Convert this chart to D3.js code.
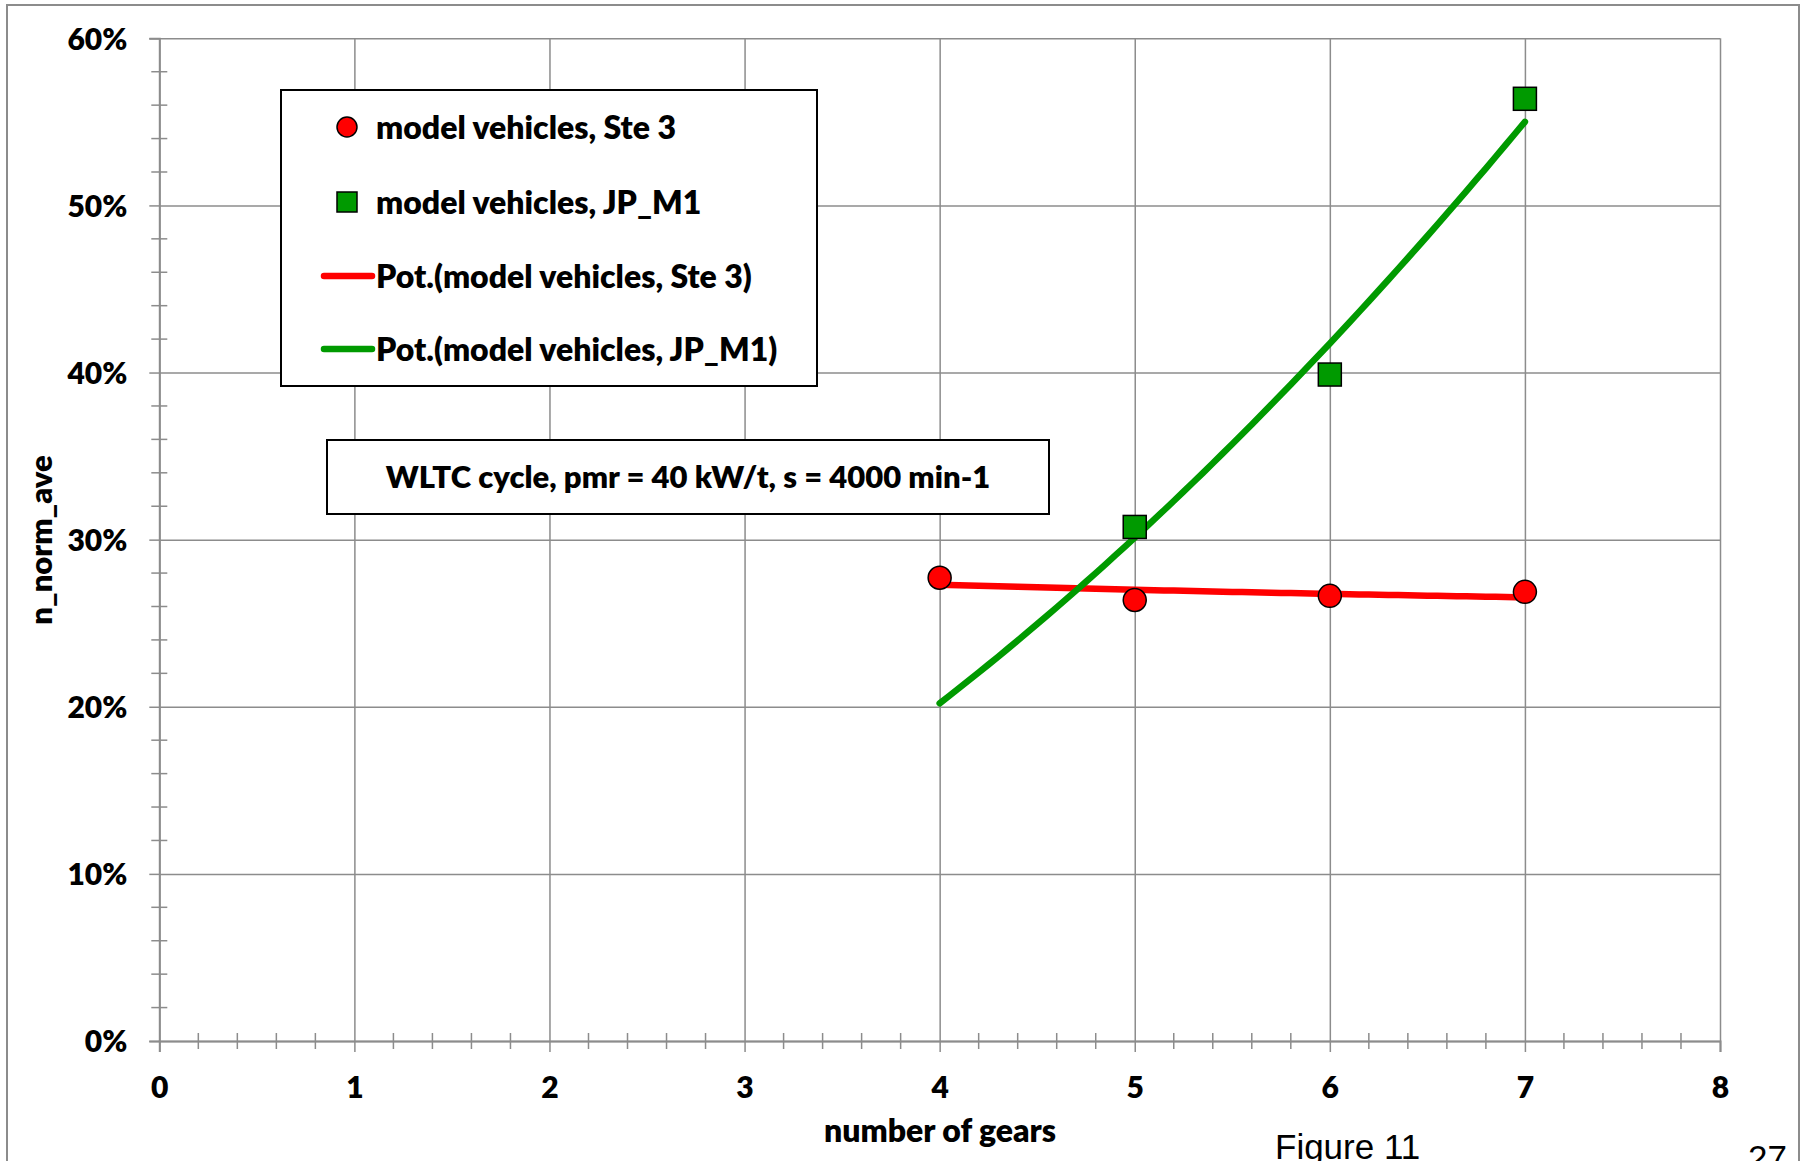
<!DOCTYPE html>
<html>
<head>
<meta charset="utf-8">
<script src="https://cdn.jsdelivr.net/npm/d3@7"></script>
<style>
  body { margin: 0; background: #fff; }
  svg { display: block; }
  .lbl { font-family: Lato, "Open Sans", sans-serif; font-weight: 800; fill: #000; }
</style>
</head>
<body>
<div class="chart"></div>
<script>
// number of gears vs n_norm_ave
const steGears = [4, 5, 6, 7];
const steValues = [0.2772, 0.2639, 0.2664, 0.2688];
const jpGears = [5, 6, 7];
const jpValues = [0.3076, 0.3988, 0.5638];
const trendRange = [4, 7];   // Excel draws both power trendlines over 4..7

const xTicks = [0, 1, 2, 3, 4, 5, 6, 7, 8];
const yTicks = [0, 0.1, 0.2, 0.3, 0.4, 0.5, 0.6];

const legendNames = ["model vehicles, Ste 3", "model vehicles, JP_M1",
  "Pot.(model vehicles, Ste 3)", "Pot.(model vehicles, JP_M1)"];
const noteText = "WLTC cycle, pmr = 40 kW/t, s = 4000 min-1";

const red = "#ff0000";
const green = "#009a00";
const grey = "#8c8c8c";

const W = 1806, H = 1161;
const margin = { top: 38.3, right: 86, bottom: 120, left: 159.3 };
const width = W - margin.left - margin.right;
const height = 1041 - margin.top;

const svg = d3.select(".chart")
    .append("svg")
    .attr("width", W)
    .attr("height", H);

// outer frame
svg.append("rect")
    .attr("x", 7).attr("y", 5)
    .attr("width", 1792).attr("height", 1200)
    .attr("fill", "none")
    .attr("stroke", grey)
    .attr("stroke-width", 2);

const g = svg.append("g")
    .attr("transform", "translate(" + margin.left + "," + margin.top + ")");

const x = d3.scaleLinear().domain([0, 8]).range([0, width]);
const y = d3.scaleLinear().domain([0, 0.6]).range([height, 0]);

// grid
g.append("g")
    .attr("class", "grid")
    .call(d3.axisLeft(y).tickValues(yTicks).tickSize(-width).tickFormat(""));
g.append("g")
    .attr("class", "grid")
    .attr("transform", "translate(0," + height + ")")
    .call(d3.axisBottom(x).tickValues(xTicks).tickSize(-height).tickFormat(""));
g.selectAll(".grid .domain").remove();
g.selectAll(".grid line").attr("stroke", grey).attr("stroke-width", 1.5);

// minor ticks (cross the axis)
const yMinor = d3.range(0, 61, 2).filter(d => d % 10 !== 0).map(d => d / 100);
g.append("g").selectAll("line")
    .data(yMinor)
    .enter()
    .append("line")
    .attr("x1", -8).attr("x2", 8)
    .attr("y1", d => y(d)).attr("y2", d => y(d))
    .attr("stroke", grey).attr("stroke-width", 1.5);

const xMinor = d3.range(0, 41).filter(d => d % 5 !== 0).map(d => d / 5);
g.append("g").selectAll("line")
    .data(xMinor)
    .enter()
    .append("line")
    .attr("y1", height - 8).attr("y2", height + 8)
    .attr("x1", d => x(d)).attr("x2", d => x(d))
    .attr("stroke", grey).attr("stroke-width", 1.5);

// axes
const yAxis = g.append("g")
    .call(d3.axisLeft(y).tickValues(yTicks).tickSize(10).tickPadding(22)
        .tickFormat(d3.format(".0%")));
const xAxis = g.append("g")
    .attr("transform", "translate(0," + height + ")")
    .call(d3.axisBottom(x).tickValues(xTicks).tickSize(11).tickPadding(25));

[yAxis, xAxis].forEach(a => {
    a.select(".domain").attr("stroke", grey).attr("stroke-width", 2);
    a.selectAll(".tick line").attr("stroke", grey).attr("stroke-width", 1.5);
    a.selectAll("text")
        .attr("class", "lbl")
        .style("font-size", "30px")
        .attr("fill", "#000");
});
yAxis.selectAll("text").attr("dy", "0.36em");

// power trendlines y = a * x^b (least squares in log space, as Excel does)
function powerFit(xs, ys) {
    const lx = xs.map(Math.log), ly = ys.map(Math.log);
    const mx = d3.mean(lx), my = d3.mean(ly);
    const b = d3.sum(lx, (v, i) => (v - mx) * (ly[i] - my)) / d3.sum(lx, v => (v - mx) * (v - mx));
    const a = Math.exp(my - b * mx);
    return v => a * Math.pow(v, b);
}

const line = d3.line().x(d => x(d[0])).y(d => y(d[1]));
const steps = d3.range(0, 61).map(i => trendRange[0] + (trendRange[1] - trendRange[0]) * i / 60);

const steFit = powerFit(steGears, steValues);
const jpFit = powerFit(jpGears, jpValues);

g.append("path")
    .datum(steps.map(v => [v, steFit(v)]))
    .attr("d", line)
    .attr("fill", "none").attr("stroke", red)
    .attr("stroke-width", 6.5).attr("stroke-linecap", "round");

g.append("path")
    .datum(steps.map(v => [v, jpFit(v)]))
    .attr("d", line)
    .attr("fill", "none").attr("stroke", green)
    .attr("stroke-width", 6.5).attr("stroke-linecap", "round");

// markers
g.append("g")
    .selectAll("circle")
    .data(steGears)
    .enter()
    .append("circle")
    .attr("cx", d => x(d))
    .attr("cy", (d, i) => y(steValues[i]))
    .attr("r", 11.5)
    .attr("fill", red)
    .attr("stroke", "#000").attr("stroke-width", 1.5);

g.append("g")
    .selectAll("rect")
    .data(jpGears)
    .enter()
    .append("rect")
    .attr("x", d => x(d) - 11.5)
    .attr("y", (d, i) => y(jpValues[i]) - 11.5)
    .attr("width", 23).attr("height", 23)
    .attr("fill", green)
    .attr("stroke", "#000").attr("stroke-width", 1.5);

// axis titles
svg.append("text")
    .attr("class", "lbl")
    .attr("transform", "translate(52,540) rotate(-90)")
    .attr("text-anchor", "middle")
    .style("font-size", "31px")
    .text("n_norm_ave");

svg.append("text")
    .attr("class", "lbl")
    .attr("x", 940).attr("y", 1142)
    .attr("text-anchor", "middle")
    .style("font-size", "32px")
    .text("number of gears");

// legend
const legend = svg.append("g");
legend.append("rect")
    .attr("x", 281).attr("y", 90)
    .attr("width", 536).attr("height", 296)
    .attr("fill", "#fff")
    .attr("stroke", "#000").attr("stroke-width", 2);

const rowY = [127, 202, 276, 349];
legend.append("circle")
    .attr("cx", 347).attr("cy", rowY[0]).attr("r", 10)
    .attr("fill", red).attr("stroke", "#000").attr("stroke-width", 1.5);
legend.append("rect")
    .attr("x", 337).attr("y", rowY[1] - 10).attr("width", 20).attr("height", 20)
    .attr("fill", green).attr("stroke", "#000").attr("stroke-width", 1.5);
legend.append("line")
    .attr("x1", 324).attr("x2", 372).attr("y1", rowY[2]).attr("y2", rowY[2])
    .attr("stroke", red).attr("stroke-width", 6.5).attr("stroke-linecap", "round");
legend.append("line")
    .attr("x1", 324).attr("x2", 372).attr("y1", rowY[3]).attr("y2", rowY[3])
    .attr("stroke", green).attr("stroke-width", 6.5).attr("stroke-linecap", "round");

legend.selectAll("text")
    .data(legendNames)
    .enter()
    .append("text")
    .attr("class", "lbl")
    .attr("x", 376)
    .attr("y", (d, i) => rowY[i])
    .attr("dy", "0.36em")
    .style("font-size", "32px")
    .text(d => d);

// annotation box
svg.append("rect")
    .attr("x", 327).attr("y", 440)
    .attr("width", 722).attr("height", 74)
    .attr("fill", "#fff")
    .attr("stroke", "#000").attr("stroke-width", 2);
svg.append("text")
    .attr("class", "lbl")
    .attr("x", 688).attr("y", 477)
    .attr("dy", "0.36em")
    .attr("text-anchor", "middle")
    .style("font-size", "31px")
    .text(noteText);

// page footer
svg.append("text")
    .attr("x", 1275).attr("y", 1159)
    .style("font-family", "'Liberation Sans', Arial, sans-serif")
    .style("font-size", "35px")
    .text("Figure 11");
svg.append("text")
    .attr("x", 1748).attr("y", 1170)
    .style("font-family", "'Liberation Sans', Arial, sans-serif")
    .style("font-size", "35px")
    .text("27");
</script>
</body>
</html>
